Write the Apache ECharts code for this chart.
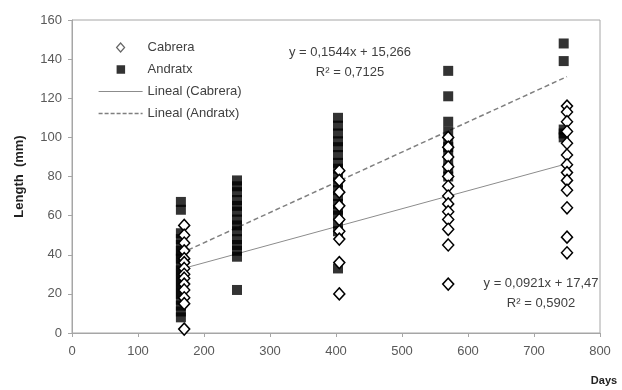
<!DOCTYPE html>
<html>
<head>
<meta charset="utf-8">
<script src="https://cdn.jsdelivr.net/npm/echarts@6/dist/echarts.min.js"></script>
<style>
  html, body { margin: 0; padding: 0; background: #fff; }
  #chart { width: 622px; height: 390px; }
</style>
</head>
<body>
<div id="chart"></div>
<script>
// sampling days and measured lengths (mm)
var cabreraX = [170, 405, 570, 750];
var cabreraY = [
  [55, 50, 46, 42, 38, 36, 33, 30, 28, 25, 22, 18, 15, 2],
  [83, 78, 72, 65, 58, 52, 48, 36, 20],
  [100, 95, 90, 85, 80, 75, 70, 66, 62, 58, 53, 45, 25],
  [116, 113, 108, 103, 97, 91, 86, 82, 78, 73, 64, 49, 41]
];
var andratxX = [165, 250, 403, 570, 745];
var andratxY = [
  [67, 63, 51, 48, 45, 42, 40, 38, 35, 32, 30, 27, 25, 22, 20, 17, 14, 11, 8],
  [78, 75, 72, 68, 65, 62, 58, 55, 52, 48, 45, 42, 39, 22],
  [110, 106, 102, 98, 95, 91, 87, 84, 80, 77, 73, 70, 66, 63, 60, 56, 52, 33],
  [134, 121, 108, 103, 98, 95, 92, 88, 84, 80],
  [148, 139, 104, 102, 100]
];
// linear fits shown in the figure
var fitCabrera = { slope: 0.0921, icept: 17.47, from: 165, to: 750 };
var fitAndratx = { slope: 0.1544, icept: 15.266, from: 165, to: 750 };
var labelCabrera = ["y = 0,0921x + 17,47", "R² = 0,5902"];
var labelAndratx = ["y = 0,1544x + 15,266", "R² = 0,7125"];

function toPoints(xs, ys) {
  var out = [];
  xs.forEach(function (x, i) {
    ys[i].forEach(function (y) { out.push([x, y]); });
  });
  return out;
}
function fitLine(f) {
  return [
    [f.from, f.slope * f.from + f.icept],
    [f.to, f.slope * f.to + f.icept]
  ];
}

// legend icons: 44px wide box, mark centred (M points pin the box width)
var W = 44;
var diamondIcon = "path://M0,6L0,6ZM18,6L22,1.5L26,6L22,10.5ZM" + W + ",6L" + W + ",6Z";
var squareIcon = "path://M0,6L0,6ZM18,2H26.5V10.5H18ZM" + W + ",6L" + W + ",6Z";
var solidIcon = "path://M0,5.5H" + W + "V6.5H0Z";
var dashIcon = "path://";
for (var d = 0; d < W; d += 6) {
  dashIcon += "M" + d + ",5.3H" + Math.min(d + 4, W) + "V6.7H" + d + "Z";
}

var font = "'Liberation Sans', Arial, sans-serif";
var chart = echarts.init(document.getElementById("chart"));
chart.setOption({
  animation: false,
  textStyle: { fontFamily: font },
  grid: {
    left: 72, right: 22, top: 20, bottom: 57,
    containLabel: false, outerBoundsMode: "none",
    show: true, borderColor: "#a6a6a6", borderWidth: 1
  },
  legend: {
    orient: "vertical",
    left: 93,
    top: 36,
    itemGap: 9,
    itemWidth: W,
    itemHeight: 12,
    symbolKeepAspect: true,
    textStyle: { fontSize: 13, color: "#404040", fontFamily: font },
    data: [
      { name: "Cabrera", icon: diamondIcon, itemStyle: { color: "#fff", borderColor: "#666", borderWidth: 1.2 } },
      { name: "Andratx", icon: squareIcon },
      { name: "Lineal (Cabrera)", icon: solidIcon },
      { name: "Lineal (Andratx)", icon: dashIcon }
    ]
  },
  xAxis: {
    type: "value",
    min: 0,
    max: 800,
    interval: 100,
    name: "Days",
    nameLocation: "end",
    nameGap: 0,
    nameTextStyle: { fontWeight: "bold", fontSize: 11, color: "#222", padding: [42, 0, 0, 8], align: "center", verticalAlign: "top" },
    axisLine: { lineStyle: { color: "#a6a6a6" } },
    axisTick: { show: true, length: 4, lineStyle: { color: "#a6a6a6" } },
    axisLabel: { fontSize: 13, color: "#595959", margin: 12 },
    splitLine: { show: false }
  },
  yAxis: {
    type: "value",
    min: 0,
    max: 160,
    interval: 20,
    name: "Length  (mm)",
    nameLocation: "middle",
    nameGap: 46,
    nameRotate: 90,
    nameTextStyle: { fontWeight: "bold", fontSize: 13, color: "#222" },
    axisLine: { show: true, lineStyle: { color: "#a6a6a6" } },
    axisTick: { show: true, length: 4, lineStyle: { color: "#a6a6a6" } },
    axisLabel: { fontSize: 13, color: "#595959", margin: 10 },
    splitLine: { show: false }
  },
  graphic: [
    {
      type: "text", x: 350, y: 42,
      style: { text: labelAndratx.join("\n"), fontSize: 13, lineHeight: 20, fill: "#404040", align: "center", fontFamily: font }
    },
    {
      type: "text", x: 541, y: 273,
      style: { text: labelCabrera.join("\n"), fontSize: 13, lineHeight: 20, fill: "#404040", align: "center", fontFamily: font }
    }
  ],
  series: [
    {
      name: "Lineal (Cabrera)",
      type: "line",
      data: fitLine(fitCabrera),
      symbol: "none",
      z: 1,
      lineStyle: { color: "#8c8c8c", width: 1 },
      itemStyle: { color: "#8c8c8c" }
    },
    {
      name: "Lineal (Andratx)",
      type: "line",
      data: fitLine(fitAndratx),
      symbol: "none",
      z: 1,
      lineStyle: { color: "#7f7f7f", width: 1.5, type: [5, 3] },
      itemStyle: { color: "#7f7f7f" }
    },
    {
      name: "Andratx",
      type: "scatter",
      data: toPoints(andratxX, andratxY),
      symbol: "rect",
      symbolSize: 10,
      z: 2,
      itemStyle: { color: "#000" }
    },
    {
      name: "Cabrera",
      type: "scatter",
      data: toPoints(cabreraX, cabreraY),
      symbol: "diamond",
      symbolSize: [11, 12],
      z: 3,
      itemStyle: { color: "#fff", borderColor: "#000", borderWidth: 1.5, opacity: 1 }
    }
  ]
});
</script>
</body>
</html>
